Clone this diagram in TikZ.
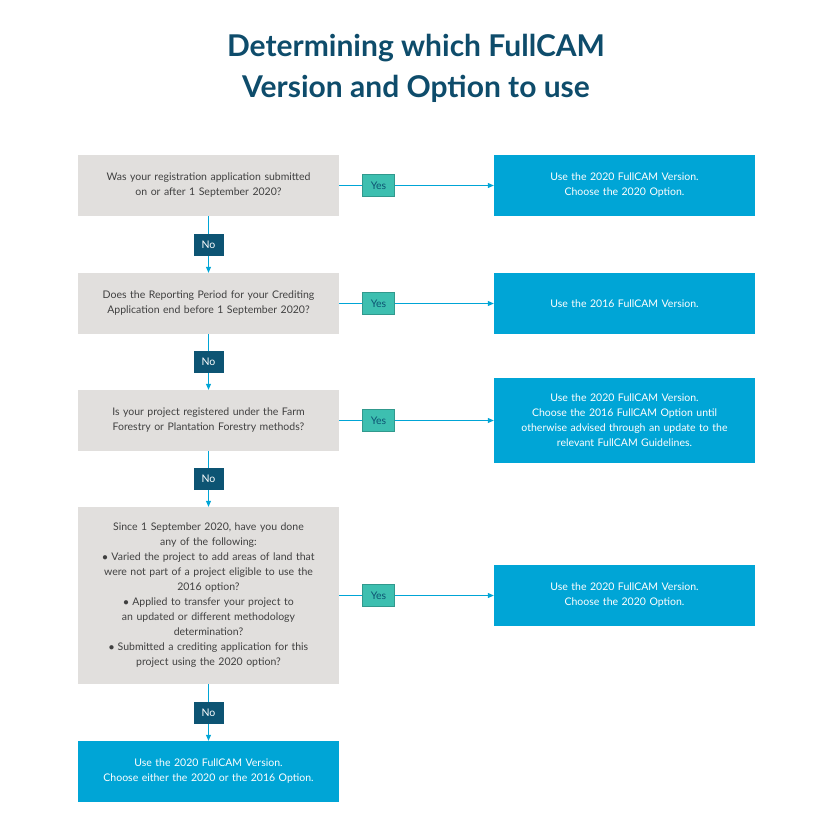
\documentclass[tikz,border=0pt]{standalone}
\usepackage{fontspec}
\setmainfont{Lato}
\usetikzlibrary{arrows.meta}
\definecolor{qgray}{HTML}{E1DFDD}
\definecolor{ablue}{HTML}{00A5D6}
\definecolor{nonavy}{HTML}{0D5473}
\definecolor{yesteal}{HTML}{3DBFB0}
\definecolor{titleblue}{HTML}{0E4C6B}
\begin{document}
\begin{tikzpicture}[
    x=1pt, y=-1pt,
    question/.style={
      fill = qgray, minimum width = 261pt, text width = 250pt,
      align = center, font = \fontsize{10.5}{15}\selectfont, text = black!75,
    },
    answer/.style={
      fill = ablue, minimum width = 261pt, text width = 250pt,
      align = center, font = \fontsize{10.5}{15}\selectfont, text = white,
    },
    no/.style={
      fill = nonavy, text = white, minimum width = 30pt, minimum height = 22pt,
      font = \fontsize{10.5}{12}\selectfont, inner sep = 0pt,
    },
    yes/.style={
      fill = yesteal, draw = yesteal!80!black, text = nonavy, minimum width = 32pt,
      minimum height = 22pt, font = \fontsize{10.5}{12}\selectfont, inner sep = 0pt,
    },
    flow/.style={
      draw = ablue, thick, -{Triangle[length=6pt,width=5pt]},
    },
  ]
  \useasboundingbox (0,0) rectangle (833,833);
  \node (title) [text = titleblue, align = center,
    font = \fontsize{30}{41}\selectfont\bfseries] at (416,68)
    {Determining which FullCAM\\Version and Option to use};

  % questions
  \node (q1) [question, minimum height = 61pt] at (208.5,185.5)
    {Was your registration application submitted\\on or after 1 September 2020?};
  \node (q2) [question, minimum height = 61pt] at (208.5,303.5)
    {Does the Reporting Period for your Crediting\\Application end before 1 September 2020?};
  \node (q3) [question, minimum height = 61pt] at (208.5,420.5)
    {Is your project registered under the Farm\\Forestry or Plantation Forestry methods?};
  \node (q4) [question, minimum height = 177pt] at (208.5,595.5)
    {Since 1 September 2020, have you done\\any of the following:\\
     $\bullet$ Varied the project to add areas of land that\\were not part of a project eligible to use the\\2016 option?\\
     $\bullet$ Applied to transfer your project to\\an updated or different methodology\\determination?\\
     $\bullet$ Submitted a crediting application for this\\project using the 2020 option?};
  \node (a5) [answer, minimum height = 61pt] at (208.5,771.5)
    {Use the 2020 FullCAM Version.\\Choose either the 2020 or the 2016 Option.};

  % answers
  \node (a1) [answer, minimum height = 61pt] at (624.5,185.5)
    {Use the 2020 FullCAM Version.\\Choose the 2020 Option.};
  \node (a2) [answer, minimum height = 61pt] at (624.5,303.5)
    {Use the 2016 FullCAM Version.};
  \node (a3) [answer, minimum height = 85pt] at (624.5,420.5)
    {Use the 2020 FullCAM Version.\\Choose the 2016 FullCAM Option until\\otherwise advised through an update to the\\relevant FullCAM Guidelines.};
  \node (a4) [answer, minimum height = 61pt] at (624.5,595.5)
    {Use the 2020 FullCAM Version.\\Choose the 2020 Option.};

  % connectors
  \foreach \i in {1,...,4} {
    \draw [flow] (q\i) -- (a\i) node [yes, midway, xshift=-38pt] {Yes};
  }
  \foreach \i/\j in {q1/q2, q2/q3, q3/q4, q4/a5} {
    \draw [flow] (\i) -- (\j) node [no, midway] {No};
  }
\end{tikzpicture}
\end{document}
